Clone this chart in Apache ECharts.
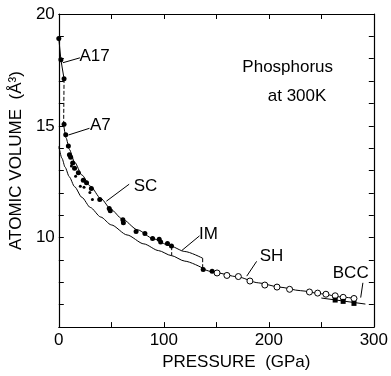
<!DOCTYPE html>
<html>
<head>
<meta charset="utf-8">
<script src="https://cdn.jsdelivr.net/npm/echarts@6/dist/echarts.min.js"></script>
<style>
  html, body { margin: 0; padding: 0; background: #fff; }
  #chart { width: 391px; height: 376px; }
</style>
</head>
<body>
<div id="chart"></div>
<script>
// measured data, [pressure GPa, atomic volume A^3]
const filledDots = [
  [0, 18.9], [2, 17.95], [5, 17.1],
  [5, 15.07], [6.6, 14.6], [9.1, 14.1], [10.1, 13.71], [11.3, 13.6], [13.2, 13.34],
  [15, 13.1], [18.6, 12.9], [23.3, 12.57], [26.4, 12.46], [31, 12.2], [39, 11.7],
  [48, 11.3], [49, 11.2], [61, 10.8], [61.5, 10.67], [73.6, 10.28], [82, 10.19],
  [89.3, 9.96], [95.6, 9.93], [97, 9.8], [103.5, 9.74], [107.3, 9.63],
  [137.5, 8.57], [146, 8.5]
]
const smallDots = [
  [12, 13.2], [16, 12.75], [20.5, 12.3], [24, 12.25], [29.6, 12.02], [32, 11.7]
]
const openCircles = [
  [150.7, 8.42], [160.1, 8.31], [171, 8.26], [182, 8.06], [196.2, 7.88], [207.8, 7.79],
  [219.8, 7.69], [238.7, 7.57], [246.5, 7.52], [254.4, 7.47], [263.2, 7.4],
  [270.8, 7.33], [281.1, 7.28]
]
const bccSquares = [[263.2, 7.21], [270.8, 7.15], [281.1, 7.06]]

// fitted curves
const a17Line = [[0, 18.9], [2, 17.95], [5, 17.1]]
const a17Dashed = [[5, 17.1], [4.6, 15.05]]
const upperCurve = [
  [4.6, 15.05], [7, 14.45], [10, 13.95], [15, 13.38], [22, 12.8], [30, 12.3], [40, 11.75],
  [50, 11.25], [60, 10.85], [75, 10.35], [90, 9.95], [105, 9.65], [120, 9.38], [137, 9.08]
]
const lowerCurve = [
  [0, 14.08], [3, 13.55], [6, 13.15], [10, 12.72], [15, 12.28], [22, 11.8], [30, 11.35],
  [40, 10.92], [50, 10.57], [65, 10.12], [81, 9.72], [95, 9.42], [107, 9.2], [120, 8.95], [137, 8.64]
]
const shCurve = [
  [137, 8.6], [150, 8.43], [170, 8.25], [190, 7.98], [210, 7.79], [230, 7.63],
  [250, 7.49], [270, 7.34], [284, 7.27]
]
const bccCurve = [[250, 7.3], [292, 7.03]]
const imDashed = [
  [[107.5, 9.62], [107.5, 9.2]],
  [[137, 9.08], [137, 8.6]]
]

// annotations
const labels = [
  { name: 'A17', value: [34, 18.1] },
  { name: 'A7', value: [39.6, 15.02] },
  { name: 'SC', value: [82.5, 12.29] },
  { name: 'IM', value: [142.5, 10.13] },
  { name: 'SH', value: [202.5, 9.16] },
  { name: 'BCC', value: [278, 8.42] },
  { name: 'Phosphorus', value: [218, 17.6] },
  { name: 'at 300K', value: [226.9, 16.34] }
]
const leaders = [
  [[20.1, 18.04], [3.8, 17.82]],
  [[29.2, 14.89], [9.2, 14.59]],
  [[67, 12.39], [45.3, 11.63]],
  [[134, 10.08], [117, 9.42]],
  [[188.4, 8.94], [179, 8.28]],
  [[289.6, 7.98], [287.5, 7.32]]
]

const FONT = 'Liberation Sans'
const black = '#000'

const lineSeries = (data, type, smooth) => ({
  type: 'line',
  data: data,
  showSymbol: false,
  symbol: 'none',
  smooth: smooth ? 0.25 : false,
  smoothMonotone: smooth ? 'x' : null,
  lineStyle: { color: black, width: 1, type: type || 'solid' },
  silent: true,
  z: 2
})

const chart = echarts.init(document.getElementById('chart'))

const axisCommon = {
  type: 'value',
  axisLine: { show: true, onZero: false, lineStyle: { color: black, width: 1.2 } },
  axisTick: { show: true, inside: true, length: 5, lineStyle: { color: black } },
  splitLine: { show: false },
  axisLabel: { color: black, fontFamily: FONT, fontSize: 17 }
}

chart.setOption({
  animation: false,
  grid: { left: 57, right: 16, top: 14, bottom: 44 },
  textStyle: { fontFamily: FONT },
  xAxis: [
    {
      ...axisCommon,
      min: 0, max: 300, interval: 50,
      position: 'bottom',
      axisLabel: {
        ...axisCommon.axisLabel,
        margin: 5,
        formatter: (v) => (v % 100 === 0 ? String(v) : '')
      },
      name: 'PRESSURE  (GPa)',
      nameLocation: 'middle',
      nameGap: 26,
      nameTextStyle: { color: black, fontFamily: FONT, fontSize: 17, padding: [0, 0, 0, 40] }
    },
    {
      ...axisCommon,
      min: 0, max: 300, interval: 50,
      position: 'top',
      axisLabel: { show: false }
    }
  ],
  yAxis: [
    {
      ...axisCommon,
      min: 6, max: 20, interval: 1,
      position: 'left',
      axisLabel: {
        ...axisCommon.axisLabel,
        margin: 4,
        formatter: (v) => (v % 5 === 0 ? String(v) : '')
      },
      name: 'ATOMIC VOLUME  (Å³)',
      nameLocation: 'middle',
      nameGap: 25,
      nameRotate: 90,
      nameTextStyle: { color: black, fontFamily: FONT, fontSize: 17, padding: [0, 0, 0, 20] }
    },
    {
      ...axisCommon,
      min: 6, max: 20, interval: 1,
      position: 'right',
      axisLabel: { show: false }
    }
  ],
  series: [
    lineSeries(a17Line),
    lineSeries(a17Dashed, 'dashed'),
    lineSeries(upperCurve, 'solid', true),
    lineSeries(lowerCurve, 'solid', true),
    lineSeries(shCurve, 'solid', true),
    lineSeries(bccCurve),
    ...imDashed.map((d) => lineSeries(d, 'dashed')),
    ...leaders.map((d) => lineSeries(d)),
    {
      type: 'scatter',
      data: filledDots,
      symbol: 'circle',
      symbolSize: 5,
      itemStyle: { color: black, opacity: 1 },
      z: 4
    },
    {
      type: 'scatter',
      data: smallDots,
      symbol: 'circle',
      symbolSize: 3,
      itemStyle: { color: black, opacity: 1 },
      z: 4
    },
    {
      type: 'scatter',
      data: openCircles,
      symbol: 'circle',
      symbolSize: 6,
      itemStyle: { color: '#fff', borderColor: black, borderWidth: 1, opacity: 1 },
      z: 4
    },
    {
      type: 'scatter',
      data: bccSquares,
      symbol: 'rect',
      symbolSize: 5,
      itemStyle: { color: black, opacity: 1 },
      z: 4
    },
    {
      type: 'scatter',
      data: labels,
      symbolSize: 1,
      itemStyle: { color: '#fff', opacity: 0 },
      label: {
        show: true,
        position: 'inside',
        formatter: '{b}',
        color: black,
        opacity: 1,
        fontFamily: FONT,
        fontSize: 17
      },
      silent: true,
      z: 5
    }
  ]
})
</script>
</body>
</html>
